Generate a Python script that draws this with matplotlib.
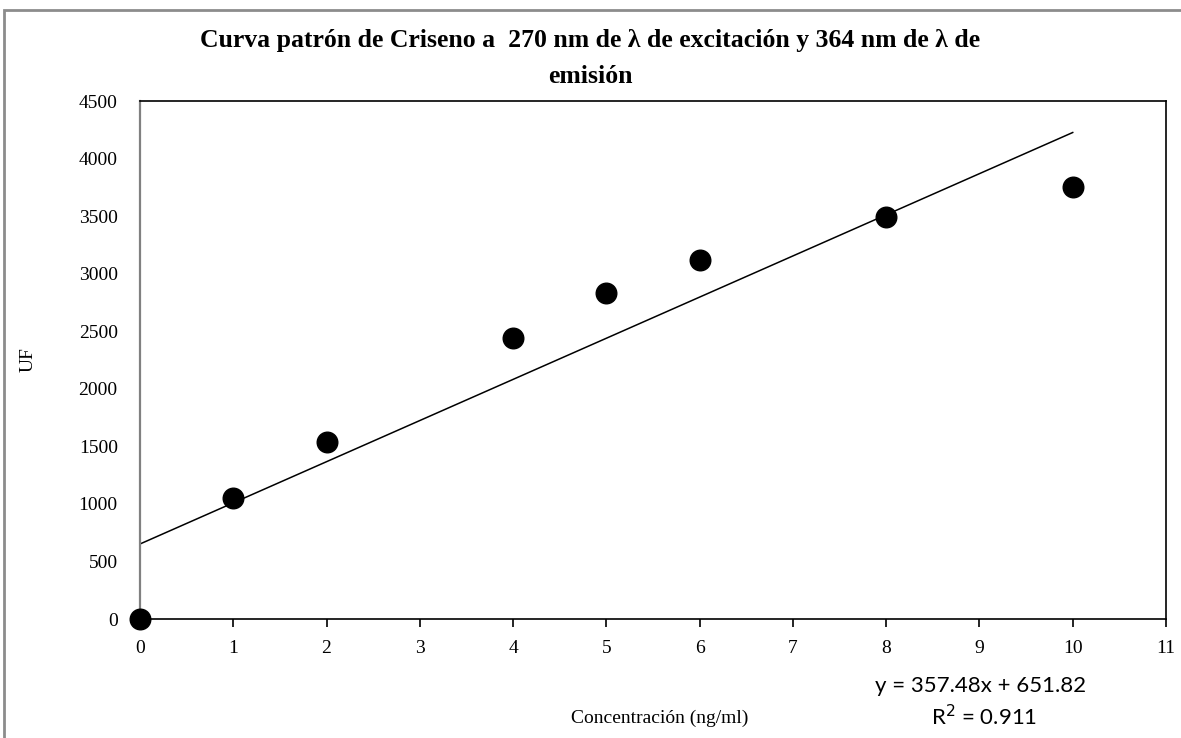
import matplotlib.pyplot as plt
import numpy as np
from matplotlib.patches import Rectangle

# Datos de la curva patrón
conc = [0, 1, 2, 4, 5, 6, 8, 10]
uf = [0, 1050, 1540, 2440, 2830, 3120, 3490, 3750]
pendiente = 357.48
intercepto = 651.82
r2 = 0.911

plt.rcParams['font.family'] = ['Liberation Serif', 'DejaVu Serif']

fig = plt.figure(figsize=(11.81, 7.38), dpi=100)
ax = fig.add_axes([0.1185, 0.1612, 0.8688, 0.7019])

# linea de tendencia
xl = np.array([0, 10])
ax.plot(xl, pendiente * xl + intercepto, color='black', lw=1.1, zorder=2)
ax.scatter(conc, uf, s=220, color='black', zorder=3, clip_on=False)

ax.set_xlim(0, 11)
ax.set_ylim(0, 4500)
ax.set_xticks(range(0, 12))
ax.set_yticks(range(0, 4501, 500))
ax.tick_params(axis='x', direction='out', length=6, width=1.2, pad=9, labelsize=14)
ax.tick_params(axis='y', length=0, pad=16, labelsize=14)

for s in ['top', 'right', 'bottom']:
    ax.spines[s].set_color('black')
    ax.spines[s].set_linewidth(1.2)
ax.spines['left'].set_color('#808080')
ax.spines['left'].set_linewidth(1.6)

ax.set_ylabel('UF', fontsize=14, labelpad=30)
fig.text(0.559, 0.027, 'Concentración (ng/ml)', fontsize=14, ha='center', va='center')

fig.text(0.5, 0.945, 'Curva patrón de Criseno a  270 nm de λ de excitación y 364 nm de λ de',
         fontsize=18.5, fontweight='bold', ha='center', va='center')
fig.text(0.5, 0.896, 'emisión', fontsize=18.5, fontweight='bold', ha='center', va='center')

fig.text(0.83, 0.071, 'y = 357.48x + 651.82', fontsize=16, ha='center', va='center',
         family=['Lato', 'DejaVu Sans'])
fig.text(0.833, 0.029, 'R$^2$ = %.3f' % r2, fontsize=16, ha='center', va='center',
         family=['Lato', 'DejaVu Sans'])

# marco exterior del gráfico
fig.patches.append(Rectangle((0.003, -0.01), 1.1, 0.997, transform=fig.transFigure,
                             fill=False, edgecolor='#8c8c8c', lw=2))

fig.savefig('out.png', dpi=100)
